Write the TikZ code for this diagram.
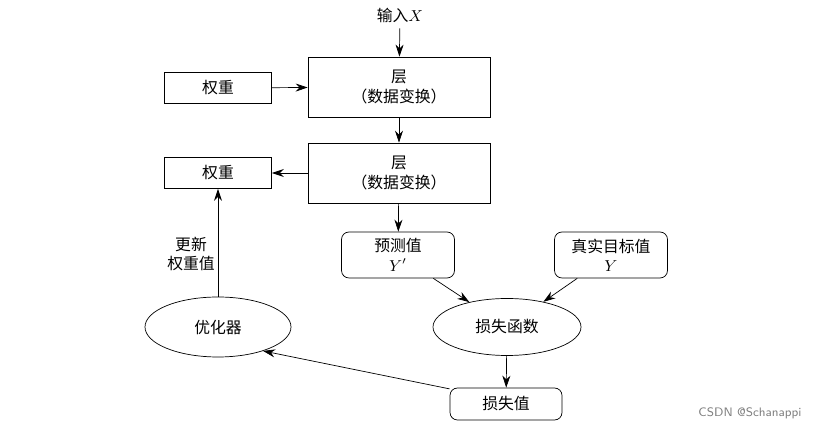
\documentclass[tikz,border=0pt]{standalone}
\usepackage{fontspec}
\newfontfamily\cjk{Noto Sans CJK SC}
\usetikzlibrary{arrows.meta,shapes.geometric}
\begin{document}
\begin{tikzpicture}[font=\cjk\small]
    \tikzstyle{layer}=[rectangle,draw,minimum height=1.2cm,minimum width=3.64cm,align=center,inner sep=1pt];
    \tikzstyle{weight}=[rectangle,draw,minimum height=0.62cm,minimum width=2.14cm];
    \tikzstyle{value}=[rectangle,rounded corners=1.5mm,draw,minimum height=0.92cm,minimum width=2.26cm,align=center,inner sep=1pt];
    \tikzstyle{func}=[ellipse,draw,minimum height=1.14cm,minimum width=2.96cm];
    \tikzstyle{flow}=[-{Stealth[length=2.4mm,width=1.6mm]}];

    \useasboundingbox (0,0) rectangle (16.66,8.64);

    \node (input) at (8.0,8.34) {输入$X$};
    \node[layer] (layer1) at (7.98,6.90) {层\\（数据变换）};
    \node[layer] (layer2) at (7.98,5.18) {层\\（数据变换）};
    \node[weight] (w1) at (4.36,6.88) {权重};
    \node[weight] (w2) at (4.36,5.18) {权重};
    \node[value] (pred) at (7.96,3.54) {预测值\\$Y'$};
    \node[value] (true) at (12.22,3.54) {真实目标值\\$Y$};
    \node[func] (loss) at (10.14,2.10) {损失函数};
    \node[func,minimum width=2.92cm,minimum height=1.2cm] (opt) at (4.36,2.10) {优化器};
    \node[value,minimum height=0.64cm,minimum width=2.24cm] (lossval) at (10.12,0.56) {损失值};
    \node[align=center] (upd) at (3.82,3.56) {更新\\权重值};
    \node[text=gray,font=\sffamily\scriptsize] (mark) at (15.0,0.38) {CSDN @Schanappi};

    \draw[flow] (input) -- (layer1);
    \draw[flow] (w1) -- (layer1);
    \draw[flow] (layer1) -- (layer2);
    \draw[flow] (layer2) -- (w2);
    \draw[flow] (layer2) -- (pred);
    \draw[flow] (pred) -- (loss);
    \draw[flow] (true) -- (loss);
    \draw[flow] (loss) -- (lossval);
    \draw[flow] (lossval.165) -- (opt.-28);
    \draw[flow] (opt) -- (w2);
\end{tikzpicture}
\end{document}
